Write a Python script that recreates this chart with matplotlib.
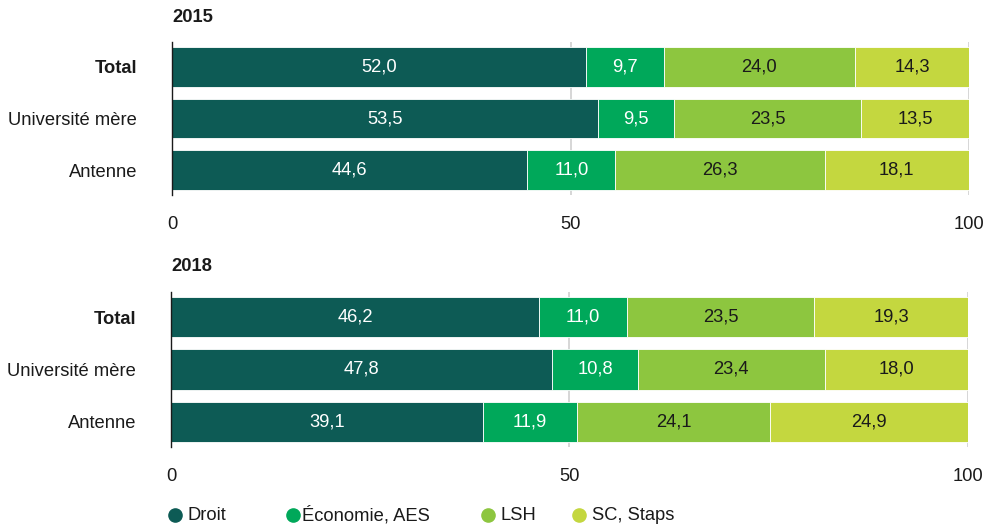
import matplotlib.pyplot as plt
from matplotlib.lines import Line2D

plt.rcParams['font.family'] = ['Liberation Sans', 'DejaVu Sans']

categories = ["Total", "Université mère", "Antenne"]
series_names = ["Droit", "Économie, AES", "LSH", "SC, Staps"]
colors = ["#0d5b55", "#00a85a", "#8dc63f", "#c4d73f"]
text_colors = ["white", "white", "#1a1a1a", "#1a1a1a"]

years = ["2015", "2018"]
values_2015 = {
    "Droit": [52.0, 53.5, 44.6],
    "Économie, AES": [9.7, 9.5, 11.0],
    "LSH": [24.0, 23.5, 26.3],
    "SC, Staps": [14.3, 13.5, 18.1],
}
values_2018 = {
    "Droit": [46.2, 47.8, 39.1],
    "Économie, AES": [11.0, 10.8, 11.9],
    "LSH": [23.5, 23.4, 24.1],
    "SC, Staps": [19.3, 18.0, 24.9],
}
x_ticks = [0, 50, 100]

W, H = 987, 525
FS = 13.2
fig = plt.figure(figsize=(W / 100, H / 100), dpi=100)

panels = [
    (years[0], values_2015, [172 / W, 1 - 195 / H, 797 / W, 153 / H]),
    (years[1], values_2018, [171 / W, 1 - 447 / H, 797 / W, 155 / H]),
]


def fmt(v):
    return f"{v:.1f}".replace(".", ",")


for year, data, rect in panels:
    ax = fig.add_axes(rect)
    ypos = list(range(len(categories)))
    left = [0.0] * len(categories)
    for name, col, tcol in zip(series_names, colors, text_colors):
        vals = data[name]
        ax.barh(ypos, vals, left=left, height=0.77, color=col,
                edgecolor="white", linewidth=0.6, zorder=3)
        for y, l, v in zip(ypos, left, vals):
            ax.text(l + v / 2, y, fmt(v), ha="center", va="center",
                    color=tcol, fontsize=FS, zorder=4)
        left = [a + b for a, b in zip(left, vals)]

    ax.set_xlim(0, 100)
    ax.set_ylim(2.48, -0.48)
    ax.set_yticks(ypos)
    ax.set_yticklabels(categories, fontsize=FS, color="#1a1a1a")
    ax.get_yticklabels()[0].set_fontweight("bold")
    ax.set_xticks(x_ticks)
    ax.set_xticklabels([str(t) for t in x_ticks], fontsize=FS, color="#1a1a1a")
    ax.tick_params(axis="both", length=0)
    ax.tick_params(axis="x", pad=15)
    ax.tick_params(axis="y", pad=25)
    for s in ["top", "right", "bottom"]:
        ax.spines[s].set_visible(False)
    ax.spines["left"].set_color("#1a1a1a")
    ax.spines["left"].set_linewidth(1.0)
    ax.spines["left"].set_zorder(5)
    for t in [50, 100]:
        ax.axvline(t, color="#d0d0d0", linewidth=1.2, zorder=1)
    ax.text(0, -0.96, year, transform=ax.transData, fontsize=FS,
            fontweight="bold", ha="left", va="center", color="#1a1a1a",
            clip_on=False)

# Legend entries: coloured dot followed by the series name
marker_x = [175, 293, 488, 579]
label_x = [188, 302, 500, 592]
leg_y = 1 - 515 / H
for name, col, mx, lx in zip(series_names, colors, marker_x, label_x):
    fig.add_artist(Line2D([mx / W], [leg_y], marker="o", linestyle="none",
                          markersize=9.5, markerfacecolor=col,
                          markeredgecolor=col, transform=fig.transFigure))
    fig.text(lx / W, leg_y, name, fontsize=FS, ha="left", va="center",
             color="#1a1a1a")

fig.savefig("out.png", dpi=100)
